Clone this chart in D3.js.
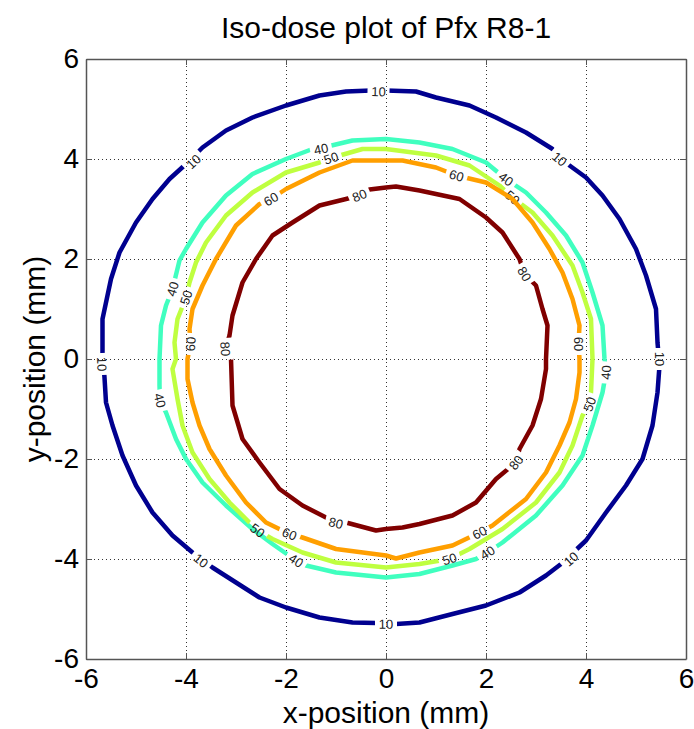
<!DOCTYPE html>
<html>
<head>
<meta charset="UTF-8">
<title>Iso-dose plot of Pfx R8-1</title>
<script src="https://d3js.org/d3.v7.min.js"></script>
<style>
  body { margin: 0; background: #fff; }
  text { font-family: "Liberation Sans", Arial, Helvetica, sans-serif; }
</style>
</head>
<body>
<svg width="694" height="729"></svg>
<script>
// iso-dose levels and their jet colours
var levels = [10, 40, 50, 60, 80];
var levelColors = ["#00008f", "#40ffbf", "#bfff40", "#ff9f00", "#800000"];
var tickValues = [-6, -4, -2, 0, 2, 4, 6];

// contour points (mm), going clockwise from the top
var contour10 = [[0,5.37],[0.6,5.35],[1.0,5.23],[1.67,5.07],[2.2,4.83],[2.8,4.53],[3.33,4.2],[3.63,3.9],[4.0,3.63],[4.33,3.27],
  [4.67,2.8],[5.0,2.2],[5.2,1.67],[5.4,1.0],[5.43,0.33],[5.47,-0.13],[5.43,-0.67],[5.33,-1.33],[5.13,-2.0],[4.8,-2.53],
  [4.4,-3.07],[4.0,-3.63],[3.5,-4.1],[3.2,-4.33],[2.67,-4.67],[2.0,-4.93],[1.33,-5.1],[0.67,-5.27],[0.2,-5.3],[-0.2,-5.28],
  [-0.67,-5.27],[-1.33,-5.17],[-2.0,-4.97],[-2.53,-4.77],[-3.0,-4.47],[-3.47,-4.17],[-3.87,-3.87],[-4.27,-3.53],[-4.67,-3.07],
  [-5.0,-2.53],[-5.27,-1.93],[-5.47,-1.33],[-5.6,-0.87],[-5.63,-0.37],[-5.67,0.13],[-5.67,0.8],[-5.5,1.6],[-5.33,2.13],
  [-5.0,2.73],[-4.67,3.2],[-4.33,3.6],[-4.0,3.9],[-3.67,4.23],[-3.2,4.57],[-2.67,4.83],[-2.0,5.07],[-1.33,5.27],[-0.8,5.35],[-0.3,5.37]];
var contour40 = [[0,4.4],[0.67,4.33],[1.33,4.2],[2.0,3.93],[2.4,3.6],[2.8,3.33],[3.2,2.93],[3.6,2.47],[3.93,1.93],[4.13,1.33],
  [4.33,0.67],[4.37,0],[4.4,-0.27],[4.33,-0.67],[4.13,-1.33],[3.93,-1.93],[3.53,-2.53],[3.0,-3.13],[2.33,-3.67],[2.03,-3.87],
  [1.8,-4.0],[1.33,-4.13],[0.67,-4.3],[0,-4.37],[-1.0,-4.27],[-1.6,-4.13],[-1.8,-4.03],[-2.27,-3.7],[-2.67,-3.4],[-3.2,-2.93],
  [-3.67,-2.47],[-4.0,-2.0],[-4.2,-1.6],[-4.4,-1.07],[-4.52,-0.83],[-4.53,-0.53],[-4.53,0],[-4.5,0.67],[-4.4,1.07],[-4.27,1.4],
  [-4.13,1.97],[-4.0,2.2],[-3.67,2.73],[-3.2,3.27],[-2.67,3.7],[-2.0,4.0],[-1.47,4.2],[-1.3,4.22],[-0.67,4.37]];
var contour50 = [[0,4.2],[1.0,4.07],[1.67,3.87],[2.27,3.47],[2.53,3.23],[2.93,2.93],[3.33,2.47],[3.73,1.87],[3.93,1.33],[4.1,0.8],
  [4.13,0],[4.1,-0.67],[4.07,-0.9],[3.93,-1.13],[3.73,-1.73],[3.47,-2.27],[3.0,-2.87],[2.33,-3.4],[1.67,-3.8],[1.27,-4.0],
  [0.67,-4.1],[0,-4.17],[-1.0,-4.07],[-1.67,-3.87],[-2.27,-3.6],[-2.57,-3.43],[-2.73,-3.27],[-3.13,-2.87],[-3.53,-2.4],
  [-3.87,-1.87],[-4.07,-1.33],[-4.17,-0.8],[-4.27,-0.2],[-4.2,0],[-4.23,0.33],[-4.17,0.8],[-4.0,1.23],[-3.93,1.53],[-3.8,1.93],
  [-3.6,2.33],[-3.2,2.87],[-2.67,3.33],[-2.0,3.73],[-1.33,3.93],[-1.1,4.02],[-0.47,4.2]];
var contour60 = [[0,3.97],[0.33,3.97],[1.0,3.83],[1.41,3.67],[2.0,3.53],[2.53,3.2],[2.93,2.73],[3.27,2.2],[3.53,1.73],[3.73,1.2],
  [3.87,0.67],[3.85,0.3],[3.87,0],[3.87,-0.27],[3.8,-0.8],[3.67,-1.27],[3.47,-1.73],[3.2,-2.27],[2.8,-2.8],[2.13,-3.33],
  [1.87,-3.47],[1.33,-3.73],[0.67,-3.87],[0.2,-3.99],[0,-3.93],[-1.0,-3.8],[-1.67,-3.57],[-1.93,-3.5],[-2.4,-3.27],[-2.8,-2.87],
  [-3.2,-2.33],[-3.53,-1.8],[-3.73,-1.33],[-3.87,-0.87],[-3.97,-0.4],[-3.97,0],[-3.91,0.3],[-3.93,0.6],[-3.87,1.0],[-3.67,1.47],
  [-3.4,2.0],[-3.0,2.67],[-2.53,3.1],[-2.3,3.2],[-2.0,3.4],[-1.33,3.73],[-0.67,3.97]];
var contour80 = [[0,3.43],[0.2,3.45],[0.67,3.37],[1.47,3.2],[2.0,2.83],[2.33,2.53],[2.67,2.0],[2.77,1.7],[3.0,1.47],[3.13,1.0],
  [3.23,0.67],[3.2,0],[3.2,-0.2],[3.1,-0.8],[2.93,-1.33],[2.67,-1.8],[2.6,-2.07],[2.2,-2.4],[1.8,-2.87],[1.33,-3.13],
  [0.67,-3.3],[0.33,-3.37],[0,-3.4],[-0.2,-3.43],[-0.8,-3.27],[-1.0,-3.28],[-1.2,-3.17],[-1.67,-2.93],[-2.13,-2.6],[-2.53,-2.07],
  [-2.87,-1.6],[-3.07,-0.93],[-3.1,0],[-3.21,0.2],[-3.13,0.47],[-3.07,0.87],[-2.87,1.53],[-2.6,2.0],[-2.27,2.47],[-1.87,2.73],
  [-1.33,3.07],[-0.8,3.2],[-0.53,3.27],[-0.33,3.39]];
var contours = [contour10, contour40, contour50, contour60, contour80];

// where the inline level labels sit (mm)
var labels10 = [[-0.15,5.35],[3.47,4.0],[5.47,0.0],[3.7,-4.0],[0.0,-5.3],[-3.7,-4.03],[-5.68,-0.1],[-3.85,3.95]];
var labels40 = [[-1.3,4.2],[2.4,3.6],[4.4,-0.27],[2.03,-3.87],[-1.8,-4.03],[-4.52,-0.83],[-4.27,1.4]];
var labels50 = [[-1.1,4.02],[2.53,3.23],[4.07,-0.9],[1.27,-4.0],[-2.57,-3.43],[-4.0,1.23]];
var labels60 = [[-2.3,3.2],[1.41,3.67],[3.85,0.3],[1.87,-3.47],[-1.93,-3.5],[-3.91,0.3]];
var labels80 = [[-0.53,3.27],[2.77,1.7],[2.6,-2.07],[-1.0,-3.28],[-3.21,0.2]];
var contourLabels = [labels10, labels40, labels50, labels60, labels80];

var svg = d3.select("svg");
var margin = {left: 86, top: 59};
var W = 600, H = 600;

var x = d3.scaleLinear().domain([-6, 6]).range([margin.left, margin.left + W]);
var y = d3.scaleLinear().domain([-6, 6]).range([margin.top + H, margin.top]);

var fontTick = 28;

// grid
var grid = svg.append("g");
tickValues.slice(1, -1).forEach(function(t) {
  grid.append("line").attr("x1", x(t)).attr("x2", x(t)).attr("y1", y(-6)).attr("y2", y(6));
  grid.append("line").attr("y1", y(t)).attr("y2", y(t)).attr("x1", x(-6)).attr("x2", x(6));
});
grid.selectAll("line").attr("stroke", "#333").attr("stroke-width", 1).attr("stroke-dasharray", "1,3").attr("shape-rendering", "crispEdges");

// contour lines, each masked where its labels sit
var defs = svg.append("defs");
var line = d3.line().x(function(d) { return x(d[0]); }).y(function(d) { return y(d[1]); }).curve(d3.curveLinearClosed);

function labelAngle(pts, p) {
  // tangent of the contour near the label, in screen space
  var best = 0, bd = Infinity;
  pts.forEach(function(q, i) {
    var d = (q[0]-p[0])*(q[0]-p[0]) + (q[1]-p[1])*(q[1]-p[1]);
    if (d < bd) { bd = d; best = i; }
  });
  var n = pts.length;
  var a = pts[(best - 1 + n) % n], b = pts[(best + 1) % n];
  var ang = Math.atan2(y(b[1]) - y(a[1]), x(b[0]) - x(a[0])) * 180 / Math.PI;
  if (ang > 90) ang -= 180;
  if (ang < -90) ang += 180;
  return ang;
}

levels.forEach(function(lv, i) {
  var mask = defs.append("mask").attr("id", "m" + lv)
    .attr("maskUnits", "userSpaceOnUse").attr("x", 0).attr("y", 0).attr("width", 694).attr("height", 729);
  mask.append("rect").attr("width", 694).attr("height", 729).attr("fill", "#fff");
  contourLabels[i].forEach(function(p) {
    var a = labelAngle(contours[i], p);
    mask.append("rect").attr("x", -11).attr("y", -7).attr("width", 22).attr("height", 14).attr("fill", "#000")
      .attr("transform", "translate(" + x(p[0]) + "," + y(p[1]) + ") rotate(" + a + ")");
  });
  svg.append("path").datum(contours[i])
    .attr("d", line)
    .attr("fill", "none")
    .attr("stroke", levelColors[i])
    .attr("stroke-width", 4.5)
    .attr("stroke-linejoin", "round")
    .attr("mask", "url(#m" + lv + ")");
  contourLabels[i].forEach(function(p) {
    var a = labelAngle(contours[i], p);
    svg.append("text")
      .attr("transform", "translate(" + x(p[0]) + "," + y(p[1]) + ") rotate(" + a + ")")
      .attr("text-anchor", "middle").attr("dy", "0.36em")
      .attr("font-size", 13).attr("fill", "#222")
      .text(lv);
  });
});

// axes box with inward ticks
var axisColor = "#555";
var axB = svg.append("g").attr("transform", "translate(0," + y(-6) + ")")
  .call(d3.axisBottom(x).tickValues(tickValues).tickSizeInner(-6).tickSizeOuter(0).tickPadding(9).tickFormat(d3.format("d")));
var axT = svg.append("g").attr("transform", "translate(0," + y(6) + ")")
  .call(d3.axisTop(x).tickValues(tickValues).tickSizeInner(-6).tickSizeOuter(0).tickFormat(""));
var axL = svg.append("g").attr("transform", "translate(" + x(-6) + ",0)")
  .call(d3.axisLeft(y).tickValues(tickValues).tickSizeInner(-6).tickSizeOuter(0).tickPadding(7).tickFormat(d3.format("d")));
var axR = svg.append("g").attr("transform", "translate(" + x(6) + ",0)")
  .call(d3.axisRight(y).tickValues(tickValues).tickSizeInner(-6).tickSizeOuter(0).tickFormat(""));
[axB, axT, axL, axR].forEach(function(g) {
  g.select(".domain").attr("stroke", axisColor).attr("stroke-width", 1.5);
  g.selectAll(".tick line").attr("stroke", axisColor);
});
[axT, axR].forEach(function(g) { g.selectAll(".tick text").remove(); });
[axB, axL].forEach(function(g) {
  g.selectAll(".tick text").attr("font-size", fontTick).attr("fill", "#000")
    .attr("font-family", "'Liberation Sans', Arial, sans-serif")
    .text(function(d) { return d < 0 ? "-" + Math.abs(d) : d; });
});

// titles
svg.append("text").attr("x", x(0)).attr("y", 38).attr("text-anchor", "middle")
  .attr("font-size", 30).text("Iso-dose plot of Pfx R8-1");
svg.append("text").attr("x", x(0)).attr("y", 723).attr("text-anchor", "middle")
  .attr("font-size", 30).text("x-position (mm)");
svg.append("text").attr("transform", "translate(45," + y(0) + ") rotate(-90)").attr("text-anchor", "middle")
  .attr("font-size", 30).text("y-position (mm)");
</script>
</body>
</html>
